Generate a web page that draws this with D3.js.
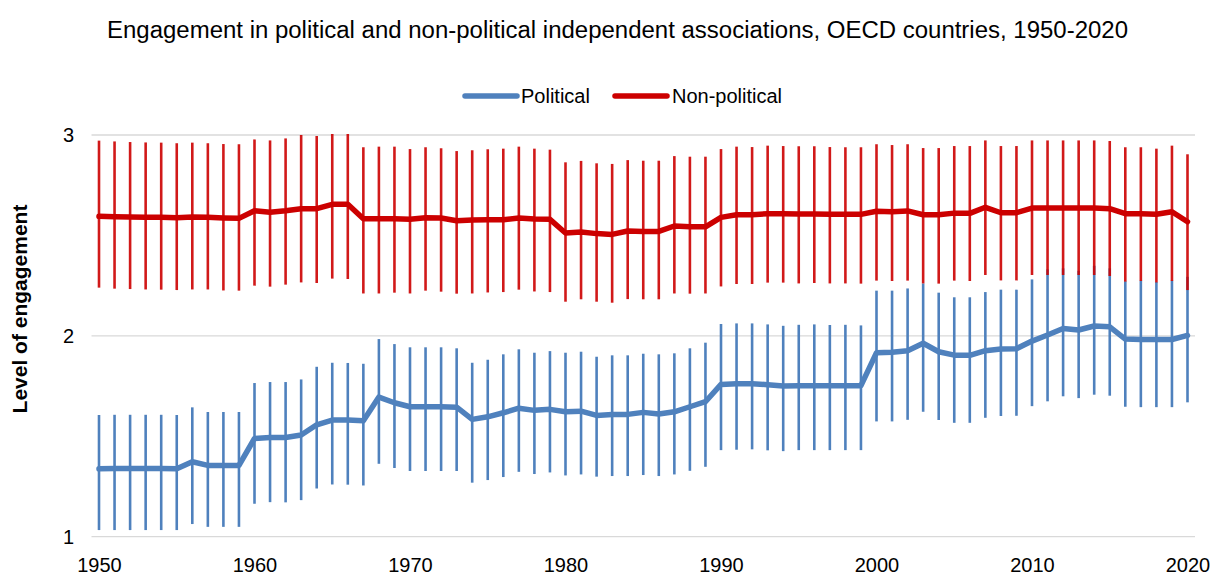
<!DOCTYPE html>
<html>
<head>
<meta charset="utf-8">
<script src="https://cdn.jsdelivr.net/npm/d3@7/dist/d3.min.js"></script>
<style>
  html, body { margin: 0; padding: 0; background: #ffffff; }
  svg { display: block; font-family: "Liberation Sans", Arial, sans-serif; }
</style>
</head>
<body>
<svg id="chart" width="1212" height="577"></svg>
<script>
// Years covered by the series
const years = [1950,1951,1952,1953,1954,1955,1956,1957,1958,1959,
  1960,1961,1962,1963,1964,1965,1966,1967,1968,1969,
  1970,1971,1972,1973,1974,1975,1976,1977,1978,1979,
  1980,1981,1982,1983,1984,1985,1986,1987,1988,1989,
  1990,1991,1992,1993,1994,1995,1996,1997,1998,1999,
  2000,2001,2002,2003,2004,2005,2006,2007,2008,2009,
  2010,2011,2012,2013,2014,2015,2016,2017,2018,2019,2020];

// Political associations: mean level and its interval
const politicalMean = [1.338,1.340,1.340,1.340,1.340,1.338,1.373,1.355,1.355,1.355,
  1.489,1.494,1.494,1.506,1.557,1.581,1.581,1.577,1.695,1.667,
  1.647,1.647,1.647,1.645,1.584,1.597,1.617,1.640,1.629,1.634,
  1.622,1.625,1.604,1.609,1.609,1.619,1.611,1.622,1.647,1.672,
  1.758,1.762,1.762,1.757,1.750,1.752,1.752,1.752,1.752,1.752,
  1.916,1.918,1.926,1.963,1.921,1.904,1.903,1.926,1.934,1.936,
  1.974,2.004,2.037,2.029,2.049,2.045,1.984,1.982,1.982,1.982,2.002];
const politicalHigh = [1.606,1.607,1.607,1.607,1.607,1.606,1.644,1.621,1.621,1.621,
  1.765,1.770,1.770,1.783,1.846,1.866,1.865,1.861,1.984,1.959,
  1.943,1.943,1.943,1.938,1.866,1.881,1.908,1.933,1.916,1.924,
  1.916,1.921,1.896,1.903,1.903,1.911,1.908,1.913,1.938,1.966,
  2.059,2.062,2.062,2.057,2.050,2.055,2.057,2.054,2.055,2.052,
  2.225,2.225,2.236,2.261,2.215,2.192,2.192,2.218,2.230,2.230,
  2.281,2.331,2.336,2.324,2.349,2.336,2.272,2.275,2.268,2.275,2.294];
const politicalLow = [1.033,1.033,1.033,1.033,1.033,1.033,1.063,1.049,1.049,1.049,
  1.164,1.172,1.171,1.182,1.240,1.260,1.259,1.255,1.363,1.342,
  1.327,1.327,1.327,1.327,1.269,1.282,1.297,1.323,1.312,1.320,
  1.305,1.310,1.299,1.302,1.302,1.307,1.302,1.310,1.328,1.348,
  1.431,1.433,1.435,1.430,1.426,1.431,1.431,1.431,1.431,1.431,
  1.574,1.574,1.582,1.622,1.581,1.567,1.567,1.592,1.601,1.602,
  1.650,1.674,1.699,1.690,1.707,1.702,1.647,1.645,1.645,1.645,1.669];

// Non-political associations: mean level and its interval
const nonPoliticalMean = [2.595,2.593,2.592,2.590,2.590,2.588,2.592,2.590,2.587,2.585,
  2.623,2.615,2.623,2.633,2.633,2.655,2.655,2.583,2.583,2.583,
  2.580,2.588,2.587,2.573,2.577,2.578,2.578,2.587,2.582,2.580,
  2.512,2.517,2.509,2.505,2.522,2.520,2.520,2.547,2.543,2.543,
  2.590,2.603,2.603,2.608,2.608,2.607,2.607,2.605,2.605,2.605,
  2.620,2.618,2.622,2.603,2.603,2.611,2.610,2.640,2.613,2.613,
  2.636,2.636,2.636,2.636,2.636,2.633,2.608,2.608,2.605,2.618,2.568];
const nonPoliticalHigh = [2.972,2.968,2.965,2.963,2.962,2.959,2.962,2.959,2.955,2.954,
  2.978,2.973,2.983,3.000,2.995,3.005,3.005,2.939,2.942,2.942,
  2.930,2.939,2.934,2.920,2.924,2.929,2.932,2.942,2.932,2.927,
  2.864,2.871,2.859,2.856,2.875,2.872,2.872,2.895,2.892,2.892,
  2.930,2.942,2.940,2.947,2.945,2.944,2.944,2.940,2.939,2.939,
  2.954,2.950,2.954,2.935,2.935,2.945,2.945,2.973,2.945,2.945,
  2.973,2.973,2.973,2.973,2.973,2.970,2.939,2.939,2.932,2.947,2.904];
const nonPoliticalLow = [2.240,2.235,2.233,2.231,2.230,2.228,2.231,2.231,2.226,2.225,
  2.250,2.245,2.255,2.266,2.263,2.285,2.283,2.211,2.211,2.215,
  2.211,2.225,2.220,2.210,2.211,2.216,2.218,2.230,2.221,2.218,
  2.170,2.182,2.170,2.165,2.183,2.182,2.182,2.211,2.210,2.211,
  2.246,2.258,2.258,2.265,2.265,2.261,2.263,2.261,2.261,2.260,
  2.275,2.273,2.275,2.261,2.260,2.275,2.273,2.303,2.276,2.276,
  2.303,2.303,2.303,2.303,2.303,2.298,2.270,2.273,2.266,2.273,2.228];

const xTickLabels = ["1950","1960","1970","1980","1990","2000","2010","2020"];
const yTickValues = [1, 2, 3];
const seriesNames = ["Political", "Non-political"];

const colors = { political: "#4f81bd", nonPolitical: "#cc0000" };

const svg = d3.select("#chart");

const x = d3.scaleLinear().domain([1950, 2020]).range([99, 1187.5]);
const y = d3.scaleLinear().domain([1, 3]).range([536.7, 135]);
const plotLeft = 91.5, plotRight = 1195;

// Title
svg.append("text")
  .attr("x", 617.5).attr("y", 38)
  .attr("text-anchor", "middle")
  .attr("font-size", 23)
  .attr("textLength", 1021)
  .attr("lengthAdjust", "spacingAndGlyphs")
  .attr("fill", "#000")
  .text("Engagement in political and non-political independent associations, OECD countries, 1950-2020");

// Legend
const legendItems = [
  { name: seriesNames[0], color: colors.political, x0: 465, tx: 521 },
  { name: seriesNames[1], color: colors.nonPolitical, x0: 615, tx: 672 }
];
const legend = svg.append("g");
legendItems.forEach(d => {
  legend.append("line")
    .attr("x1", d.x0).attr("x2", d.x0 + 52)
    .attr("y1", 96).attr("y2", 96)
    .attr("stroke", d.color).attr("stroke-width", 5.5)
    .attr("stroke-linecap", "round");
  legend.append("text")
    .attr("x", d.tx).attr("y", 103)
    .attr("font-size", 20)
    .attr("fill", "#000")
    .text(d.name);
});

// Horizontal gridlines and baseline
svg.append("g")
  .selectAll("line")
  .data(yTickValues)
  .join("line")
  .attr("x1", plotLeft).attr("x2", plotRight)
  .attr("y1", d => y(d)).attr("y2", d => y(d))
  .attr("stroke", "#d9d9d9").attr("stroke-width", 1.3);

// Y axis labels
const yAxis = d3.axisLeft(y).tickValues(yTickValues).tickFormat(d3.format("d")).tickSize(0).tickPadding(0);
svg.append("g")
  .attr("transform", "translate(74,0)")
  .call(yAxis)
  .call(g => g.select(".domain").remove())
  .call(g => g.selectAll("text")
    .attr("font-family", "Liberation Sans, Arial, sans-serif")
    .attr("font-size", 20).attr("fill", "#000"));

// X axis labels
const xAxis = d3.axisBottom(x)
  .tickValues(xTickLabels.map(Number))
  .tickFormat((d, i) => xTickLabels[i])
  .tickSize(0).tickPadding(0);
svg.append("g")
  .attr("transform", "translate(0,558)")
  .call(xAxis)
  .call(g => g.select(".domain").remove())
  .call(g => g.selectAll("text")
    .attr("font-family", "Liberation Sans, Arial, sans-serif")
    .attr("font-size", 20).attr("fill", "#000"));

// Y axis title
svg.append("text")
  .attr("transform", "translate(27,309) rotate(-90)")
  .attr("text-anchor", "middle")
  .attr("font-size", 21)
  .attr("font-weight", "bold")
  .attr("fill", "#000")
  .text("Level of engagement");

const political = years.map((yr, i) => ({ year: yr, mean: politicalMean[i], lo: politicalLow[i], hi: politicalHigh[i] }));
const nonPolitical = years.map((yr, i) => ({ year: yr, mean: nonPoliticalMean[i], lo: nonPoliticalLow[i], hi: nonPoliticalHigh[i] }));

function errorBars(data, color, opacity) {
  svg.append("g")
    .selectAll("line")
    .data(data)
    .join("line")
    .attr("x1", d => x(d.year)).attr("x2", d => x(d.year))
    .attr("y1", d => y(d.hi)).attr("y2", d => y(d.lo))
    .attr("stroke", color).attr("stroke-width", 2.6)
    .attr("stroke-opacity", opacity);
}

function meanLine(data, color) {
  const line = d3.line().x(d => x(d.year)).y(d => y(d.mean));
  svg.append("path")
    .datum(data)
    .attr("d", line)
    .attr("fill", "none")
    .attr("stroke", color).attr("stroke-width", 5.5)
    .attr("stroke-linejoin", "round").attr("stroke-linecap", "round");
}

errorBars(political, colors.political, 1);
errorBars(nonPolitical, colors.nonPolitical, 0.9);
meanLine(political, colors.political);
meanLine(nonPolitical, colors.nonPolitical);
</script>
</body>
</html>
